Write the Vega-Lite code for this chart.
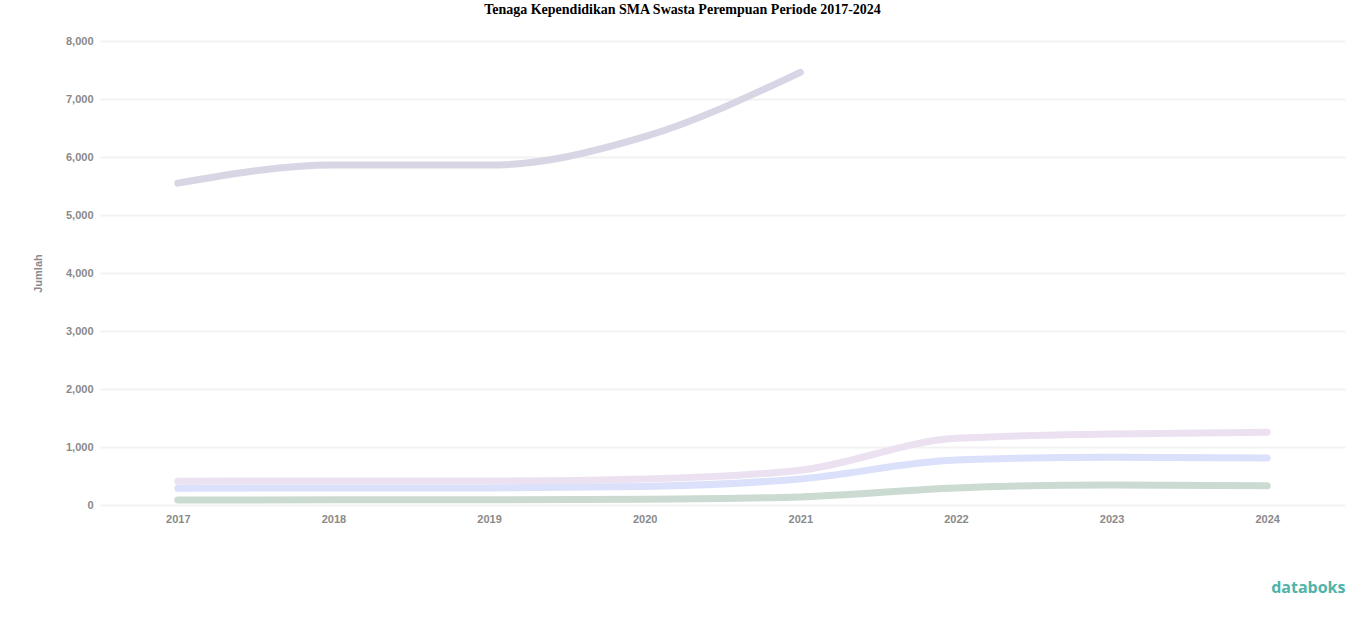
{
  "$schema": "https://vega.github.io/schema/vega-lite/v6.json",
  "width": 1245,
  "height": 464,
  "autosize": {"type": "none"},
  "padding": {"left": 100, "top": 41, "right": 21, "bottom": 112},
  "background": "#ffffff",
  "title": {
    "text": "Tenaga Kependidikan SMA Swasta Perempuan Periode 2017-2024",
    "font": "Liberation Serif",
    "fontSize": 14,
    "fontWeight": "bold",
    "color": "#000000",
    "anchor": "middle",
    "dx": -40,
    "offset": 18
  },
  "data": {
    "values": [
      {"tahun": "2017", "kategori": "Tenaga Administrasi", "jumlah": 5550},
      {"tahun": "2018", "kategori": "Tenaga Administrasi", "jumlah": 5860},
      {"tahun": "2019", "kategori": "Tenaga Administrasi", "jumlah": 5860},
      {"tahun": "2020", "kategori": "Tenaga Administrasi", "jumlah": 6350},
      {"tahun": "2021", "kategori": "Tenaga Administrasi", "jumlah": 7460},
      {"tahun": "2017", "kategori": "Pustakawan", "jumlah": 410},
      {"tahun": "2018", "kategori": "Pustakawan", "jumlah": 415},
      {"tahun": "2019", "kategori": "Pustakawan", "jumlah": 415},
      {"tahun": "2020", "kategori": "Pustakawan", "jumlah": 450},
      {"tahun": "2021", "kategori": "Pustakawan", "jumlah": 600},
      {"tahun": "2022", "kategori": "Pustakawan", "jumlah": 1150},
      {"tahun": "2023", "kategori": "Pustakawan", "jumlah": 1225},
      {"tahun": "2024", "kategori": "Pustakawan", "jumlah": 1255},
      {"tahun": "2017", "kategori": "Laboran", "jumlah": 290},
      {"tahun": "2018", "kategori": "Laboran", "jumlah": 295},
      {"tahun": "2019", "kategori": "Laboran", "jumlah": 295},
      {"tahun": "2020", "kategori": "Laboran", "jumlah": 320},
      {"tahun": "2021", "kategori": "Laboran", "jumlah": 450},
      {"tahun": "2022", "kategori": "Laboran", "jumlah": 775},
      {"tahun": "2023", "kategori": "Laboran", "jumlah": 825},
      {"tahun": "2024", "kategori": "Laboran", "jumlah": 810},
      {"tahun": "2017", "kategori": "Lainnya", "jumlah": 85},
      {"tahun": "2018", "kategori": "Lainnya", "jumlah": 90},
      {"tahun": "2019", "kategori": "Lainnya", "jumlah": 90},
      {"tahun": "2020", "kategori": "Lainnya", "jumlah": 100},
      {"tahun": "2021", "kategori": "Lainnya", "jumlah": 140},
      {"tahun": "2022", "kategori": "Lainnya", "jumlah": 295},
      {"tahun": "2023", "kategori": "Lainnya", "jumlah": 345},
      {"tahun": "2024", "kategori": "Lainnya", "jumlah": 330}
    ]
  },
  "mark": {"type": "line", "interpolate": "monotone", "strokeWidth": 7, "strokeCap": "round"},
  "encoding": {
    "x": {
      "field": "tahun",
      "type": "ordinal",
      "scale": {"type": "point", "padding": 0.5},
      "axis": {
        "title": "databoks",
        "titleAnchor": "end",
        "titleColor": "#4fb3a9",
        "titleFont": "Open Sans",
        "titleFontSize": 16,
        "titleFontWeight": "bold",
        "titlePadding": 55,
        "labelAngle": 0,
        "labelFont": "Liberation Sans",
        "labelFontSize": 11,
        "labelFontWeight": "bold",
        "labelColor": "#8a8a8a",
        "labelPadding": 8,
        "domain": false,
        "ticks": false,
        "grid": false
      }
    },
    "y": {
      "field": "jumlah",
      "type": "quantitative",
      "scale": {"domain": [0, 8000], "nice": false},
      "axis": {
        "title": "Jumlah",
        "titleFont": "Liberation Sans",
        "titleFontSize": 11,
        "titleColor": "#8a8a8a",
        "titlePadding": 22,
        "values": [0, 1000, 2000, 3000, 4000, 5000, 6000, 7000, 8000],
        "format": ",d",
        "labelFont": "Liberation Sans",
        "labelFontSize": 11,
        "labelFontWeight": "bold",
        "labelColor": "#8a8a8a",
        "labelPadding": 7,
        "domain": false,
        "ticks": false,
        "grid": true,
        "gridColor": "#f2f2f2",
        "gridWidth": 2
      }
    },
    "color": {
      "field": "kategori",
      "type": "nominal",
      "scale": {
        "domain": ["Tenaga Administrasi", "Pustakawan", "Laboran", "Lainnya"],
        "range": ["#d8d6e4", "#ece1f1", "#dbe0fb", "#cbdbd1"]
      },
      "legend": null
    }
  },
  "config": {"view": {"stroke": null}}
}
